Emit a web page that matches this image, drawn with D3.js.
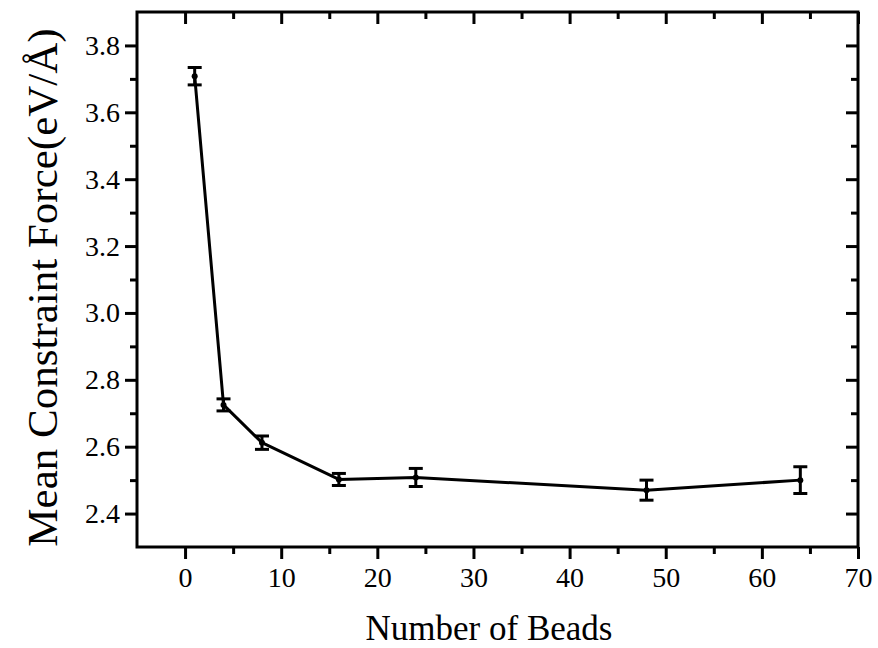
<!DOCTYPE html>
<html>
<head>
<meta charset="utf-8">
<script src="https://cdn.jsdelivr.net/npm/d3@7"></script>
<style>
  html, body { margin: 0; padding: 0; background: #fff; }
  svg { display: block; }
  text { font-family: "Liberation Serif", "Times New Roman", serif; fill: #000; }
</style>
</head>
<body>
<svg id="chart" width="878" height="648"></svg>
<script>
// Mean constraint force versus number of beads
const beads = [1, 4, 8, 16, 24, 48, 64];
const meanForce = [3.708, 2.725, 2.612, 2.502, 2.508, 2.470, 2.500];
const forceError = [0.026, 0.018, 0.020, 0.018, 0.027, 0.030, 0.040];

const xTicks = [0, 10, 20, 30, 40, 50, 60, 70];
const yTicks = [2.4, 2.6, 2.8, 3.0, 3.2, 3.4, 3.6, 3.8];

const xDomain = [-5, 70];
const yDomain = [2.3, 3.9];

const plot = { left: 137, right: 858, top: 12, bottom: 547 };
const serif = "'Liberation Serif', 'Times New Roman', serif";

const svg = d3.select("#chart");
const x = d3.scaleLinear().domain(xDomain).range([plot.left, plot.right]);
const y = d3.scaleLinear().domain(yDomain).range([plot.bottom, plot.top]);

const xMinor = d3.range(-5, 70.001, 5).filter(v => !xTicks.includes(v) && v > xDomain[0]);
const yMinor = d3.range(2.3, 3.9001, 0.1).map(v => +v.toFixed(1))
  .filter(v => !yTicks.some(t => Math.abs(t - v) < 1e-6) && v > yDomain[0] + 1e-6 && v < yDomain[1] - 1e-6);

function styleAxis(g) {
  g.attr("font-family", serif);
  g.select(".domain").remove();
  g.selectAll(".tick line").attr("stroke", "#000").attr("stroke-width", 3);
}

// bottom axis (outward ticks + labels)
svg.append("g").attr("transform", `translate(0,${plot.bottom})`)
  .call(d3.axisBottom(x).tickValues(xTicks).tickSize(12).tickPadding(8).tickFormat(d3.format("d")))
  .call(styleAxis)
  .call(g => g.selectAll("text").attr("font-size", 28));
svg.append("g").attr("transform", `translate(0,${plot.bottom})`)
  .call(d3.axisBottom(x).tickValues(xMinor).tickSize(7).tickFormat(""))
  .call(styleAxis);

// top axis (inward ticks)
svg.append("g").attr("transform", `translate(0,${plot.top})`)
  .call(d3.axisBottom(x).tickValues(xTicks).tickSize(12).tickFormat(""))
  .call(styleAxis);
svg.append("g").attr("transform", `translate(0,${plot.top})`)
  .call(d3.axisBottom(x).tickValues(xMinor).tickSize(7).tickFormat(""))
  .call(styleAxis);

// left axis (outward ticks + labels)
svg.append("g").attr("transform", `translate(${plot.left},0)`)
  .call(d3.axisLeft(y).tickValues(yTicks).tickSize(12).tickPadding(5).tickFormat(d3.format(".1f")))
  .call(styleAxis)
  .call(g => g.selectAll("text").attr("font-size", 28));
svg.append("g").attr("transform", `translate(${plot.left},0)`)
  .call(d3.axisLeft(y).tickValues(yMinor).tickSize(7).tickFormat(""))
  .call(styleAxis);

// right axis (inward ticks)
svg.append("g").attr("transform", `translate(${plot.right},0)`)
  .call(d3.axisLeft(y).tickValues(yTicks).tickSize(12).tickFormat(""))
  .call(styleAxis);
svg.append("g").attr("transform", `translate(${plot.right},0)`)
  .call(d3.axisLeft(y).tickValues(yMinor).tickSize(7).tickFormat(""))
  .call(styleAxis);

// frame
svg.append("rect")
  .attr("x", plot.left).attr("y", plot.top)
  .attr("width", plot.right - plot.left).attr("height", plot.bottom - plot.top)
  .attr("fill", "none").attr("stroke", "#000").attr("stroke-width", 3);

const data = beads.map((b, i) => ({ b, v: meanForce[i], e: forceError[i] }));

// connecting line
svg.append("path")
  .datum(data)
  .attr("fill", "none").attr("stroke", "#000").attr("stroke-width", 3)
  .attr("stroke-linejoin", "round")
  .attr("d", d3.line().x(d => x(d.b)).y(d => y(d.v)));

// error bars
const eb = svg.append("g").attr("stroke", "#000").attr("stroke-width", 3);
eb.selectAll("line.stem").data(data).join("line").attr("class", "stem")
  .attr("x1", d => x(d.b)).attr("x2", d => x(d.b))
  .attr("y1", d => y(d.v - d.e)).attr("y2", d => y(d.v + d.e));
eb.selectAll("line.capTop").data(data).join("line").attr("class", "capTop")
  .attr("x1", d => x(d.b) - 7).attr("x2", d => x(d.b) + 7)
  .attr("y1", d => y(d.v + d.e)).attr("y2", d => y(d.v + d.e));
eb.selectAll("line.capBot").data(data).join("line").attr("class", "capBot")
  .attr("x1", d => x(d.b) - 7).attr("x2", d => x(d.b) + 7)
  .attr("y1", d => y(d.v - d.e)).attr("y2", d => y(d.v - d.e));

// point markers
svg.append("g").selectAll("circle").data(data).join("circle")
  .attr("cx", d => x(d.b)).attr("cy", d => y(d.v)).attr("r", 3).attr("fill", "#000");

// axis titles
svg.append("text")
  .attr("x", 489).attr("y", 640)
  .attr("text-anchor", "middle").attr("font-size", 35)
  .text("Number of Beads");

svg.append("text")
  .attr("transform", `translate(57,${(plot.top + plot.bottom) / 2 + 8}) rotate(-90)`)
  .attr("text-anchor", "middle").attr("font-size", 43)
  .text("Mean Constraint Force(eV/Å)");
</script>
</body>
</html>
